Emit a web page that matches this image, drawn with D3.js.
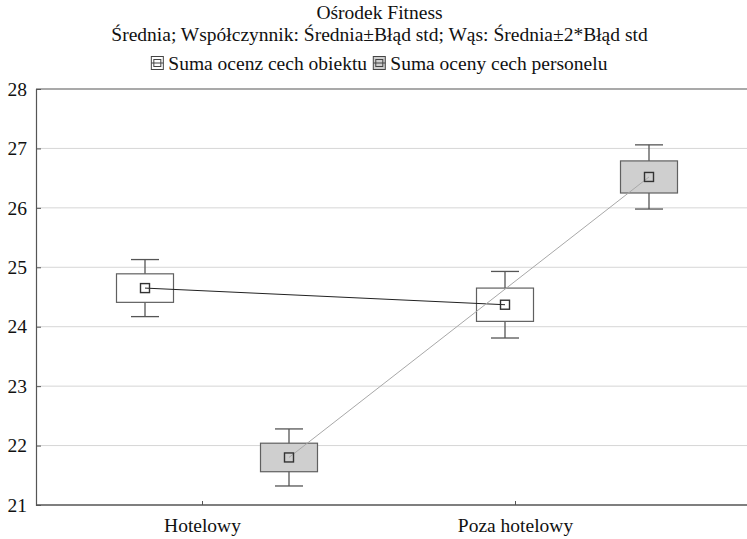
<!DOCTYPE html>
<html>
<head>
<meta charset="utf-8">
<script src="https://cdn.jsdelivr.net/npm/d3@7"></script>
<style>
  body { margin: 0; background: #fff; }
  svg text { font-family: "Times New Roman", "Liberation Serif", serif; fill: #111; }
</style>
</head>
<body>
<div id="chart"></div>
<script>
// data
var categories = ["Hotelowy", "Poza hotelowy"];
var seriesNames = ["Suma ocenz cech obiektu", "Suma oceny cech personelu"];
var meansObiekt = [24.65, 24.37];
var seObiekt = [0.24, 0.28];
var meansPersonel = [21.80, 26.52];
var sePersonel = [0.24, 0.27];
var yTicks = [21, 22, 23, 24, 25, 26, 27, 28];

var titleLines = [
	"Ośrodek Fitness",
	"Średnia; Współczynnik: Średnia±Błąd std; Wąs: Średnia±2*Błąd std"
];

var FS = 19.5;
var width = 747, height = 539;
var margin = {top: 89, right: 0, bottom: 34, left: 36};

var svg = d3.select("#chart").append("svg")
	.attr("width", width)
	.attr("height", height);

var y = d3.scaleLinear().domain([21, 28]).range([height - margin.bottom, margin.top]);
// category tick positions and group centres (Statistica puts them apart)
var xTick = d3.scalePoint().domain(categories).range([202, 515]);
var xGroup = d3.scalePoint().domain(categories).range([217, 577]);
var xSeries = d3.scalePoint().domain([0, 1]).range([-72, 72]);

var series = [
	{name: seriesNames[0], means: meansObiekt, se: seObiekt, fill: "#ffffff", line: "#222222"},
	{name: seriesNames[1], means: meansPersonel, se: sePersonel, fill: "#cfcfcf", line: "#a8a8a8"}
];

// grid lines
svg.append("g").selectAll("line")
	.data(yTicks.filter(function (d) { return d > 21 && d < 28; }))
	.enter().append("line")
	.attr("x1", margin.left).attr("x2", width)
	.attr("y1", function (d) { return y(d); })
	.attr("y2", function (d) { return y(d); })
	.attr("stroke", "#d6d6d6").attr("stroke-width", 1);

// frame top
svg.append("line").attr("x1", margin.left).attr("x2", width)
	.attr("y1", y(28)).attr("y2", y(28)).attr("stroke", "#555").attr("stroke-width", 1.2);

var yAxis = d3.axisLeft(y).tickValues(yTicks).tickFormat(d3.format("d")).tickSize(-5).tickPadding(9);
var gy = svg.append("g").attr("transform", "translate(" + margin.left + ",0)").call(yAxis);
gy.attr("font-family", null).attr("font-size", null);
gy.select(".domain").attr("stroke", "#555").attr("stroke-width", 1.2);
gy.selectAll(".tick line").attr("stroke", "#555");
gy.selectAll(".tick text").style("font-size", FS + "px").attr("fill", "#111");

var xAxis = d3.axisBottom(xTick).tickSize(-4).tickPadding(13);
var gx = svg.append("g").attr("transform", "translate(0," + y(21) + ")").call(xAxis);
gx.attr("font-family", null).attr("font-size", null);
gx.select(".domain").remove();
gx.append("line").attr("x1", margin.left).attr("x2", width)
	.attr("stroke", "#555").attr("stroke-width", 1.4);
gx.selectAll(".tick line").attr("stroke", "#555");
gx.selectAll(".tick text").style("font-size", FS + "px").attr("fill", "#111");

var boxW = 57, capW = 28, mk = 9;

series.forEach(function (s, si) {
	var pts = categories.map(function (c, i) {
		return {x: xGroup(c) + xSeries(si), m: s.means[i], se: s.se[i]};
	});
	var g = svg.append("g");

	// whiskers and boxes
	pts.forEach(function (p) {
		g.append("line").attr("x1", p.x).attr("x2", p.x)
			.attr("y1", y(p.m + 2 * p.se)).attr("y2", y(p.m - 2 * p.se))
			.attr("stroke", "#555").attr("stroke-width", 1.3);
		[p.m + 2 * p.se, p.m - 2 * p.se].forEach(function (v) {
			g.append("line").attr("x1", p.x - capW / 2).attr("x2", p.x + capW / 2)
				.attr("y1", y(v)).attr("y2", y(v))
				.attr("stroke", "#555").attr("stroke-width", 1.3);
		});
		g.append("rect")
			.attr("x", p.x - boxW / 2).attr("width", boxW)
			.attr("y", y(p.m + p.se)).attr("height", y(p.m - p.se) - y(p.m + p.se))
			.attr("fill", s.fill).attr("stroke", "#606060").attr("stroke-width", 1.2);
	});

	// connecting line
	g.append("path")
		.datum(pts)
		.attr("d", d3.line().x(function (d) { return d.x; }).y(function (d) { return y(d.m); }))
		.attr("fill", "none").attr("stroke", s.line).attr("stroke-width", 1);

	// mean markers
	g.selectAll("rect.mean").data(pts).enter().append("rect")
		.attr("class", "mean")
		.attr("x", function (d) { return d.x - mk / 2; })
		.attr("y", function (d) { return y(d.m) - mk / 2; })
		.attr("width", mk).attr("height", mk)
		.attr("fill", "none").attr("stroke", "#333").attr("stroke-width", 1.4);
});

// title, a bit right of page centre like the original
var cx = width / 2 + 6;
svg.append("g").selectAll("text").data(titleLines).enter().append("text")
	.attr("x", cx).attr("y", function (d, i) { return 19 + i * 22; })
	.attr("text-anchor", "middle").style("font-size", FS + "px")
	.text(function (d) { return d; });

// legend
var legend = svg.append("g");
var ly = 63;
series.forEach(function (s, si) {
	var it = legend.append("g").attr("class", "item");
	it.append("rect").attr("x", 0).attr("y", -6.5).attr("width", 12).attr("height", 13)
		.attr("fill", s.fill).attr("stroke", "#444").attr("stroke-width", 1);
	it.append("rect").attr("x", 2.5).attr("y", -3.5).attr("width", 7).attr("height", 7)
		.attr("fill", "none").attr("stroke", "#444").attr("stroke-width", 1);
	it.append("line").attr("x1", 0).attr("x2", 12).attr("y1", 0).attr("y2", 0)
		.attr("stroke", "#444").attr("stroke-width", 1);
	it.append("text").attr("x", 17).attr("y", 6.5).style("font-size", FS + "px").text(s.name);
});
var items = legend.selectAll("g.item").nodes();
var gap = 6;
var totalW = gap;
items.forEach(function (n) { totalW += n.getBBox().width; });
var xoff = cx - totalW / 2;
items.forEach(function (n) {
	d3.select(n).attr("transform", "translate(" + xoff + "," + ly + ")");
	xoff += n.getBBox().width + gap;
});
</script>
</body>
</html>
